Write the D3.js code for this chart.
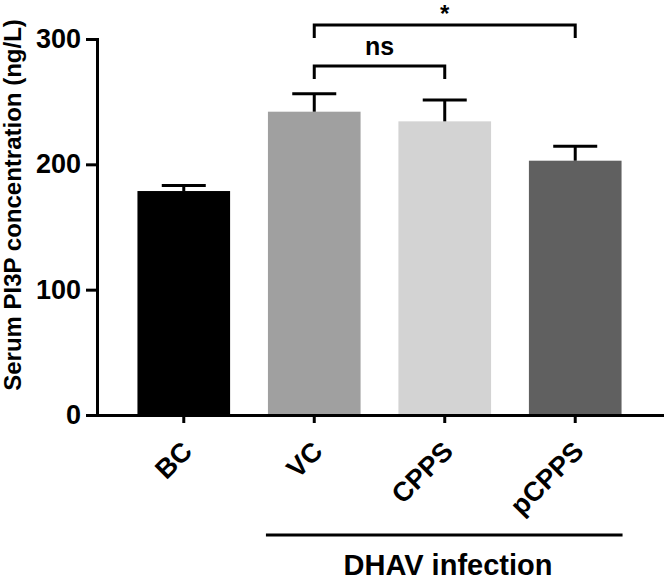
<!DOCTYPE html>
<html>
<head>
<meta charset="utf-8">
<script src="https://cdn.jsdelivr.net/npm/d3@7"></script>
<style>
  body { margin: 0; background: #fff; }
  text { font-family: "Liberation Sans", Arial, sans-serif; font-weight: bold; }
</style>
</head>
<body>
<div id="chart"></div>
<script>
// data
var groups = ["BC", "VC", "CPPS", "pCPPS"];
var means = [178.7, 242, 234.3, 202.9];
var errors = [4.5, 14.4, 17, 11.5];
var barColors = ["#000000", "#a0a0a0", "#d3d3d3", "#606060"];
var yTicks = [0, 100, 200, 300];
var infected = ["VC", "CPPS", "pCPPS"];
var comparisons = [
  { from: "VC", to: "CPPS", label: "ns", level: 0 },
  { from: "VC", to: "pCPPS", label: "*", level: 1 }
];

var width = 664, height = 581;

var svg = d3
  .select("#chart")
  .append("svg")
  .attr("width", width)
  .attr("height", height);

var x = d3
  .scaleBand()
  .domain(groups)
  .range([97, 662])
  .paddingInner(0.29)
  .paddingOuter(0.31);

var y = d3.scaleLinear().domain([0, 300]).range([415, 39]);

// bars
svg
  .selectAll(".bar")
  .data(groups)
  .enter()
  .append("rect")
  .attr("class", "bar")
  .attr("x", function (d) { return x(d); })
  .attr("y", function (d, i) { return y(means[i]); })
  .attr("width", x.bandwidth())
  .attr("height", function (d, i) { return y(0) - y(means[i]); })
  .attr("fill", function (d, i) { return barColors[i]; });

// error bars (upper only)
var err = svg
  .selectAll(".err")
  .data(groups)
  .enter()
  .append("g")
  .attr("class", "err")
  .attr("stroke", "#000")
  .attr("stroke-width", 3);

err
  .append("line")
  .attr("x1", function (d) { return x(d) + x.bandwidth() / 2; })
  .attr("x2", function (d) { return x(d) + x.bandwidth() / 2; })
  .attr("y1", function (d, i) { return y(means[i]); })
  .attr("y2", function (d, i) { return y(means[i] + errors[i]); });

err
  .append("line")
  .attr("x1", function (d) { return x(d) + x.bandwidth() / 2 - 22; })
  .attr("x2", function (d) { return x(d) + x.bandwidth() / 2 + 22; })
  .attr("y1", function (d, i) { return y(means[i] + errors[i]); })
  .attr("y2", function (d, i) { return y(means[i] + errors[i]); });

// y axis
var yAxis = svg
  .append("g")
  .attr("transform", "translate(97,0)")
  .call(d3.axisLeft(y).tickValues(yTicks).tickSize(11).tickSizeOuter(0));

yAxis.selectAll("path, line").attr("stroke", "#000").attr("stroke-width", 3);
yAxis.select(".domain").attr("stroke-linecap", "square");
yAxis
  .selectAll("text")
  .attr("x", -16)
  .style("font-size", "27px")
  .attr("fill", "#000");

// x axis
var xAxis = svg
  .append("g")
  .attr("transform", "translate(0,415)")
  .call(d3.axisBottom(x).tickSize(8).tickSizeOuter(0));

xAxis.selectAll("path, line").attr("stroke", "#000").attr("stroke-width", 3);
xAxis.select(".domain").attr("stroke-linecap", "square");
xAxis
  .selectAll("text")
  .attr("y", 0)
  .attr("dy", 0)
  .attr("transform", "translate(10,38) rotate(-45)")
  .style("text-anchor", "end")
  .style("font-size", "27px")
  .attr("fill", "#000");

// y-axis label
svg
  .append("text")
  .attr("transform", "rotate(-90)")
  .attr("x", -205)
  .attr("y", 21)
  .style("text-anchor", "middle")
  .style("font-size", "24px")
  .text("Serum PI3P concentration (ng/L)");

// DHAV infection group line + label
var first = infected[0], last = infected[infected.length - 1];
svg
  .append("line")
  .attr("x1", x(first) - 2)
  .attr("x2", x(last) + x.bandwidth() + 1)
  .attr("y1", 535)
  .attr("y2", 535)
  .attr("stroke", "#000")
  .attr("stroke-width", 3);

svg
  .append("text")
  .attr("x", 448)
  .attr("y", 575)
  .style("text-anchor", "middle")
  .style("font-size", "29px")
  .text("DHAV infection");

// significance brackets
var bracketY = [66, 25];
comparisons.forEach(function (c) {
  var x1 = x(c.from) + x.bandwidth() / 2,
    x2 = x(c.to) + x.bandwidth() / 2,
    by = bracketY[c.level];
  svg
    .append("path")
    .attr("d", "M" + x1 + "," + (by + 13) + "V" + by + "H" + x2 + "V" + (by + 13))
    .attr("fill", "none")
    .attr("stroke", "#000")
    .attr("stroke-width", 3);
  svg
    .append("text")
    .attr("x", (x1 + x2) / 2)
    .attr("y", c.label === "*" ? 22 : 55)
    .style("text-anchor", "middle")
    .style("font-size", c.label === "*" ? "24px" : "25px")
    .text(c.label);
});
</script>
</body>
</html>
